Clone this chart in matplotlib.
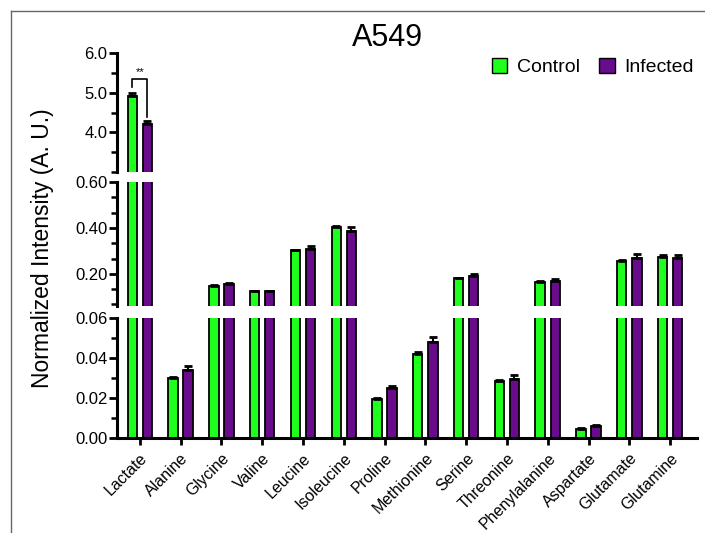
import numpy as np
import matplotlib.pyplot as plt
from matplotlib.ticker import MultipleLocator, FixedLocator
from matplotlib.lines import Line2D
from matplotlib.patches import Patch

plt.rcParams['font.family'] = ['Liberation Sans', 'DejaVu Sans']

cats = ['Lactate', 'Alanine', 'Glycine', 'Valine', 'Leucine', 'Isoleucine',
        'Proline', 'Methionine', 'Serine', 'Threonine', 'Phenylalanine',
        'Aspartate', 'Glutamate', 'Glutamine']
control = [4.92, 0.030, 0.148, 0.125, 0.302, 0.402, 0.0195, 0.042,
           0.180, 0.0285, 0.165, 0.0045, 0.258, 0.272]
control_err = [0.08, 0.0005, 0.003, 0.002, 0.004, 0.005, 0.0003, 0.001,
               0.003, 0.0003, 0.003, 0.0003, 0.003, 0.008]
infected = [4.20, 0.034, 0.155, 0.124, 0.310, 0.387, 0.025, 0.048,
            0.192, 0.0295, 0.168, 0.0062, 0.268, 0.270]
infected_err = [0.09, 0.002, 0.004, 0.003, 0.012, 0.017, 0.0012, 0.0025,
                0.008, 0.0018, 0.010, 0.0004, 0.020, 0.010]

green = '#1eff1e'
purple = '#680c8c'

x = np.arange(len(cats))
w = 0.23
off = 0.185

fig = plt.figure(figsize=(7.05, 5.33), dpi=100)
W, H = 705, 533
left, right = 117, 697

def add_ax(top_px, bot_px):
    return fig.add_axes([left / W, 1 - bot_px / H, (right - left) / W, (bot_px - top_px) / H])

ax_top = add_ax(53, 172)
ax_mid = add_ax(182, 306)
ax_bot = add_ax(318, 438)

for ax in (ax_top, ax_mid, ax_bot):
    ax.bar(x - off, control, w, color=green, edgecolor='black', linewidth=1.3, zorder=2)
    ax.bar(x + off, infected, w, color=purple, edgecolor='black', linewidth=1.3, zorder=2)
    ax.errorbar(x - off, control, yerr=[np.zeros(len(x)), control_err], fmt='none',
                ecolor='black', elinewidth=1.5, capsize=3, capthick=2, zorder=3)
    ax.errorbar(x + off, infected, yerr=[np.zeros(len(x)), infected_err], fmt='none',
                ecolor='black', elinewidth=1.5, capsize=3, capthick=2, zorder=3)
    ax.set_xlim(-0.56, 13.66)
    for s in ('top', 'right', 'bottom'):
        ax.spines[s].set_visible(False)
    ax.spines['left'].set_linewidth(2.2)
    ax.tick_params(axis='y', which='major', direction='out', length=6, width=2, labelsize=12, pad=1)
    ax.tick_params(axis='y', which='minor', direction='out', length=4, width=1.8)
    ax.patch.set_alpha(0)

ax_top.set_ylim(3.0, 6.0)
ax_top.yaxis.set_major_locator(FixedLocator([4.0, 5.0, 6.0]))
ax_top.yaxis.set_minor_locator(MultipleLocator(0.5))
ax_top.set_yticklabels(['4.0', '5.0', '6.0'])

ax_mid.set_ylim(0.06, 0.60)
ax_mid.yaxis.set_major_locator(FixedLocator([0.2, 0.4, 0.6]))
ax_mid.yaxis.set_minor_locator(MultipleLocator(0.2 / 3))
ax_mid.set_yticklabels(['0.20', '0.40', '0.60'])

ax_bot.set_ylim(0, 0.06)
ax_bot.yaxis.set_major_locator(FixedLocator([0, 0.02, 0.04, 0.06]))
ax_bot.yaxis.set_minor_locator(MultipleLocator(0.01))
ax_bot.set_yticklabels(['0.00', '0.02', '0.04', '0.06'])

for ax in (ax_top, ax_mid):
    ax.set_xticks([])

ax_bot.spines['bottom'].set_visible(True)
ax_bot.spines['bottom'].set_linewidth(2.2)
ax_bot.set_xticks(x)
ax_bot.set_xticklabels(cats, rotation=45, ha='right', rotation_mode='anchor', fontsize=11.5)
ax_bot.tick_params(axis='x', direction='out', length=5, width=2, pad=4)

# significance bracket
ax_top.plot([-off, -off, off, off], [5.15, 5.35, 5.35, 4.38], color='black', lw=1.2, clip_on=False)
ax_top.text(0, 5.4, '**', ha='center', va='bottom', fontsize=8)

fig.text(388 / W, 1 - 38 / H, 'A549', ha='center', va='center', fontsize=22)
fig.text(43 / W, 1 - 248 / H, 'Normalized Intensity (A. U.)', rotation=90,
         ha='center', va='center', fontsize=16.5)

handles = [Patch(facecolor=green, edgecolor='black', label='Control'),
           Patch(facecolor=purple, edgecolor='black', label='Infected')]
fig.legend(handles=handles, loc='center right', bbox_to_anchor=(702 / W, 1 - 67 / H),
           ncol=2, frameon=False, fontsize=14, handlelength=0.8, handleheight=0.8,
           handletextpad=0.5, columnspacing=1.0, borderaxespad=0)

# frame border of the original panel
fig.add_artist(Line2D([11 / W, 11 / W], [0, 1 - 11 / H], color='#666666', lw=1))
fig.add_artist(Line2D([11 / W, 1], [1 - 11 / H, 1 - 11 / H], color='#666666', lw=1))

fig.savefig('out.png', dpi=100)
